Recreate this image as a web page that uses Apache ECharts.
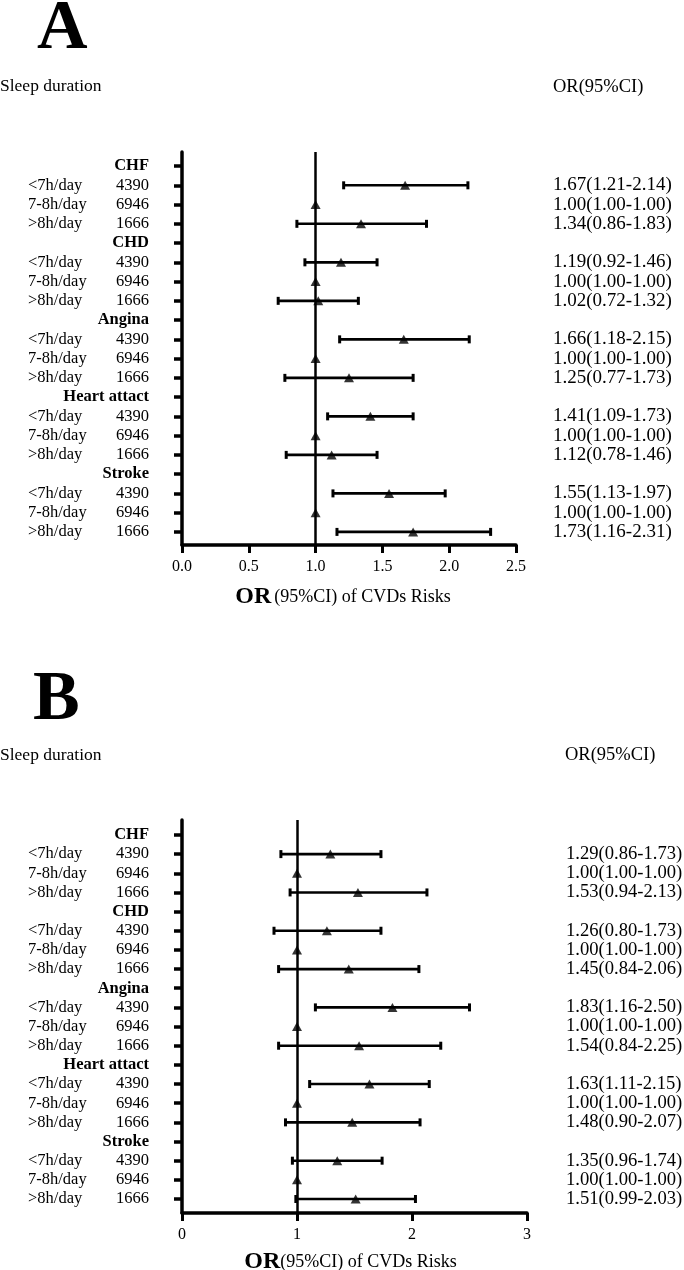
<!DOCTYPE html>
<html><head><meta charset="utf-8">
<script src="https://cdn.jsdelivr.net/npm/echarts@6/dist/echarts.min.js"></script>
<style>html,body{margin:0;padding:0;background:#fff}#c{width:684px;height:1270px}</style>
</head><body><div id="c"></div>
<script>
// ---- data ----
const groups = ['CHF', 'CHD', 'Angina', 'Heart attact', 'Stroke'];
const durations = ['<7h/day', '7-8h/day', '>8h/day'];
const counts = [4390, 6946, 1666];

// Panel A (per group: <7, 7-8, >8)
const orA = [1.67, 1.00, 1.34, 1.19, 1.00, 1.02, 1.66, 1.00, 1.25, 1.41, 1.00, 1.12, 1.55, 1.00, 1.73];
const loA = [1.21, 1.00, 0.86, 0.92, 1.00, 0.72, 1.18, 1.00, 0.77, 1.09, 1.00, 0.78, 1.13, 1.00, 1.16];
const hiA = [2.14, 1.00, 1.83, 1.46, 1.00, 1.32, 2.15, 1.00, 1.73, 1.73, 1.00, 1.46, 1.97, 1.00, 2.31];

// Panel B
const orB = [1.29, 1.00, 1.53, 1.26, 1.00, 1.45, 1.83, 1.00, 1.54, 1.63, 1.00, 1.48, 1.35, 1.00, 1.51];
const loB = [0.86, 1.00, 0.94, 0.80, 1.00, 0.84, 1.16, 1.00, 0.84, 1.11, 1.00, 0.90, 0.96, 1.00, 0.99];
const hiB = [1.73, 1.00, 2.13, 1.73, 1.00, 2.06, 2.50, 1.00, 2.25, 2.15, 1.00, 2.07, 1.74, 1.00, 2.03];

const xTicksA = [0, 0.5, 1.0, 1.5, 2.0, 2.5];
const xTicksB = [0, 1, 2, 3];

// ---- build rows ----
const allRows = [];
const dataRows = [];
const leftText = [];
groups.forEach((g, gi) => {
  const h = gi * 4;
  allRows.push(h);
  leftText[h] = '{g|' + g + '}';
  durations.forEach((d, di) => {
    const r = h + 1 + di;
    allRows.push(r);
    dataRows.push(r);
    leftText[r] = '{a|' + d + '}{b|' + counts[di] + '}';
  });
});

const FONT = 'Liberation Serif, Times New Roman, serif';

function buildPanel(idx, or, lo, hi, xTicks, xFmt, opts) {
  const rightText = {};
  dataRows.forEach((r, i) => {
    rightText[r] = or[i].toFixed(2) + '(' + lo[i].toFixed(2) + '-' + hi[i].toFixed(2) + ')';
  });
  const grid = { left: 182, top: opts.top, width: opts.width, height: 393, containLabel: false, outerBoundsMode: 'none' };
  const xAxis = {
    gridIndex: idx, type: 'value', min: xTicks[0], max: xTicks[xTicks.length - 1],
    interval: xTicks[1] - xTicks[0], position: 'bottom',
    axisLine: { show: true, onZero: false, lineStyle: { color: '#000', width: 3.5 } },
    axisTick: { show: true, length: 8, lineStyle: { color: '#000', width: 3 } },
    axisLabel: { margin: 14, color: '#000', fontFamily: FONT, fontSize: 16, formatter: xFmt },
    splitLine: { show: false },
    name: opts.name, nameLocation: 'middle', nameGap: opts.nameGap,
    nameTextStyle: {
      color: '#000', fontFamily: FONT, padding: [0, opts.namePad, 0, 0],
      rich: {
        o: { fontFamily: FONT, fontSize: 24, fontWeight: 'bold', color: '#000' },
        n: { fontFamily: FONT, fontSize: 18, color: '#000' }
      }
    }
  };
  const yBase = {
    gridIndex: idx, type: 'value', inverse: true, min: opts.ymin, max: opts.ymax,
    splitLine: { show: false }
  };
  const yLeft = Object.assign({}, yBase, {
    position: 'left',
    axisLine: { show: true, onZero: false, lineStyle: { color: '#000', width: 3.5 } },
    axisTick: { show: true, length: 8, customValues: allRows, lineStyle: { color: '#000', width: 3.5 } },
    axisLabel: {
      show: true, customValues: allRows, margin: 33, align: 'right',
      showMinLabel: true, showMaxLabel: true, hideOverlap: false,
      formatter: v => leftText[Math.round(v)] || '',
      rich: {
        a: { fontFamily: FONT, fontSize: 16.5, lineHeight: 16, color: '#000', width: 87, align: 'left' },
        b: { fontFamily: FONT, fontSize: 16.5, lineHeight: 16, color: '#000', width: 34, align: 'right' },
        g: { fontFamily: FONT, fontSize: 16.5, lineHeight: 16, fontWeight: 'bold', color: '#000' }
      }
    }
  });
  const yRight = Object.assign({}, yBase, {
    position: 'right',
    axisLine: { show: false, onZero: false }, axisTick: { show: false },
    axisLabel: {
      show: true, customValues: dataRows, margin: opts.rightMargin, align: 'left',
      showMinLabel: true, showMaxLabel: true, hideOverlap: false,
      fontFamily: FONT, fontSize: opts.rightSize, lineHeight: 16, color: '#000',
      formatter: v => rightText[Math.round(v)] || ''
    }
  });
  const barData = dataRows.map((r, i) => [lo[i], hi[i], r]);
  const ptData = dataRows.map((r, i) => [or[i], r]);
  const series = [
    {
      type: 'custom', xAxisIndex: idx, yAxisIndex: idx * 2, data: barData,
      encode: { x: [0, 1], y: 2 }, z: 3, silent: true,
      renderItem: function (params, api) {
        const row = api.value(2);
        const a = api.value(0), b = api.value(1);
        if (a === b) return null;
        const p1 = api.coord([a, row]);
        const p2 = api.coord([b, row]);
        const h = 4;
        return {
          type: 'group', children: [
            { type: 'line', shape: { x1: p1[0], y1: p1[1], x2: p2[0], y2: p2[1] }, style: { stroke: '#000', lineWidth: 2.6 } },
            { type: 'line', shape: { x1: p1[0], y1: p1[1] - h, x2: p1[0], y2: p1[1] + h }, style: { stroke: '#000', lineWidth: 3 } },
            { type: 'line', shape: { x1: p2[0], y1: p2[1] - h, x2: p2[0], y2: p2[1] + h }, style: { stroke: '#000', lineWidth: 3 } }
          ]
        };
      }
    },
    {
      type: 'scatter', xAxisIndex: idx, yAxisIndex: idx * 2, data: ptData,
      symbol: 'triangle', symbolSize: [10, 9], itemStyle: { color: '#000' }, z: 4, silent: true,
      markLine: {
        silent: true, symbol: ['none', 'none'], label: { show: false },
        lineStyle: { color: '#000', width: 2.5, type: 'solid' },
        data: [{ xAxis: 1 }]
      }
    },
    { type: 'scatter', xAxisIndex: idx, yAxisIndex: idx * 2 + 1, data: [], silent: true }
  ];
  return { grid, xAxis, yAxes: [yLeft, yRight], series };
}

const pA = buildPanel(0, orA, loA, hiA, xTicksA, v => v.toFixed(1), {
  top: 152, width: 334, ymin: -0.73, ymax: 19.68, rightMargin: 37, rightSize: 19, namePad: 12, nameGap: 40,
  name: '{o|OR} {n|(95%CI) of CVDs Risks}'
});
const pB = buildPanel(1, orB, loB, hiB, xTicksB, v => String(Math.round(v)), {
  top: 820, width: 345, ymin: -0.78, ymax: 19.73, rightMargin: 39, rightSize: 18.6, namePad: 8, nameGap: 37,
  name: '{o|OR}{n|(95%CI) of CVDs Risks}'
});

function txt(text, x, y, size, bold) {
  return {
    type: 'text', x: x, y: y, silent: true,
    style: { text: text, fill: '#000', font: (bold ? 'bold ' : '') + size + 'px ' + FONT, textVerticalAlign: 'middle', textAlign: 'left' }
  };
}

const option = {
  backgroundColor: '#fff',
  animation: false,
  grid: [pA.grid, pB.grid],
  xAxis: [pA.xAxis, pB.xAxis],
  yAxis: [pA.yAxes[0], pA.yAxes[1], pB.yAxes[0], pB.yAxes[1]],
  series: [].concat(pA.series, pB.series),
  graphic: [
    txt('A', 37, 30, 70, true),
    txt('Sleep duration', 0, 86, 17.5, false),
    txt('OR(95%CI)', 553, 87, 18.5, false),
    txt('B', 33, 701, 70, true),
    txt('Sleep duration', 0, 755, 17.5, false),
    txt('OR(95%CI)', 565, 755, 18.5, false)
  ]
};

const chart = echarts.init(document.getElementById('c'), null, { renderer: 'canvas' });
chart.setOption(option);
</script>
</body></html>
